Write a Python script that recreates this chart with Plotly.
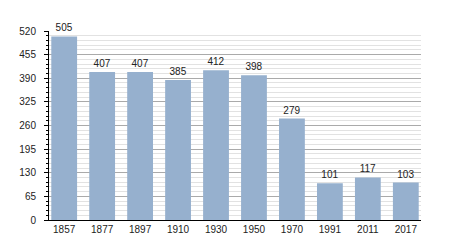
import plotly.graph_objects as go

years = ["1857", "1877", "1897", "1910", "1930", "1950", "1970", "1991", "2011", "2017"]
population = [505, 407, 407, 385, 412, 398, 279, 101, 117, 103]
y_ticks = [0, 65, 130, 195, 260, 325, 390, 455, 520]

fig = go.Figure()
fig.add_trace(go.Bar(
    x=list(range(len(years))),
    y=population,
    text=[str(v) for v in population],
    textposition="outside",
    textfont=dict(family="Liberation Sans, Arial", size=10, color="#222222"),
    marker=dict(color="#96B0CE", line=dict(width=0)),
    cliponaxis=False,
    width=0.68,
))

fig.update_layout(
    width=450, height=250,
    margin=dict(l=49, r=29, t=31, b=30),
    paper_bgcolor="white", plot_bgcolor="white",
    showlegend=False,
    font=dict(family="Liberation Sans, Arial", size=10, color="#222222"),
    xaxis=dict(
        tickmode="array",
        tickvals=list(range(len(years))),
        ticktext=years,
        range=[-0.4, 9.4],
        showline=True, linecolor="black", linewidth=1,
        ticks="", showgrid=False, zeroline=False,
        tickfont=dict(size=10, color="#222222"),
        fixedrange=True,
    ),
    yaxis=dict(
        range=[0, 520],
        tickmode="array",
        tickvals=y_ticks,
        ticktext=[str(v) for v in y_ticks],
        showline=True, linecolor="black", linewidth=1,
        ticks="outside", ticklen=4, tickcolor="black", tickwidth=1,
        ticklabelstandoff=6,
        showgrid=True, gridcolor="#AAAAAA", gridwidth=1,
        zeroline=False,
        tickfont=dict(size=10, color="#222222"),
        minor=dict(dtick=13, tick0=0, showgrid=True, gridcolor="#E2E2E2",
                   ticks="outside", ticklen=2, tickcolor="black"),
        fixedrange=True,
    ),
)

fig.write_html("out.html")
